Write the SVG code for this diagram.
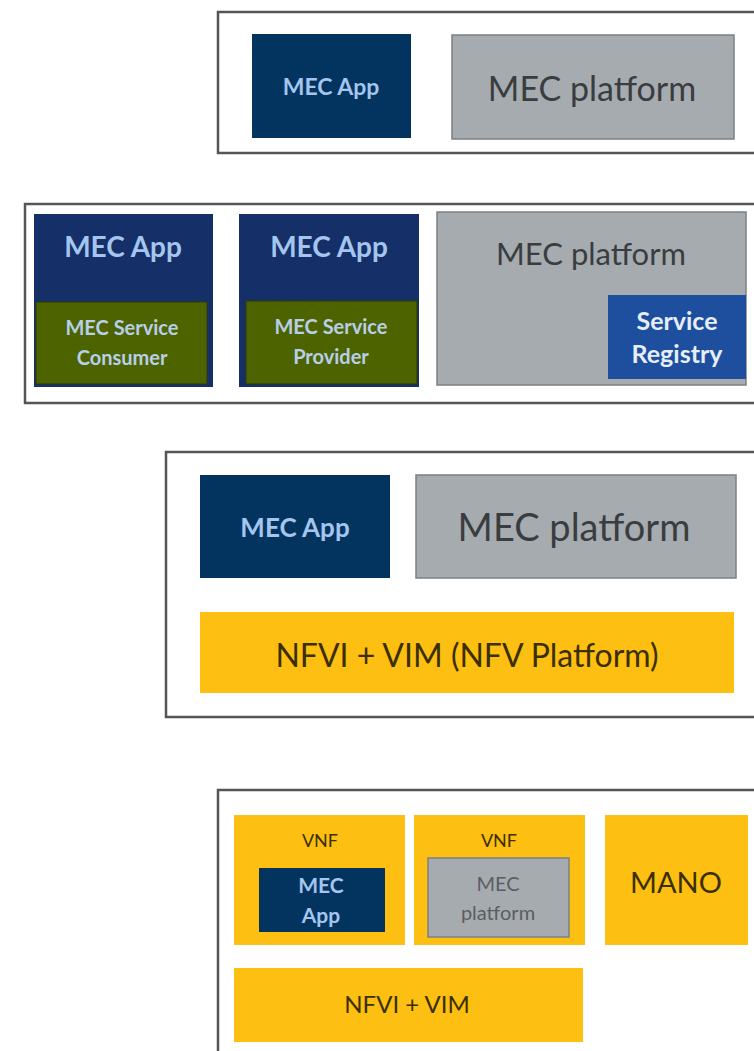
<svg xmlns="http://www.w3.org/2000/svg" width="754" height="1051" viewBox="0 0 754 1051">
<style>
text{font-family:Lato,"Open Sans","Liberation Sans",sans-serif;text-anchor:middle;dominant-baseline:central}
.frame{fill:#fff;stroke:#555;stroke-width:2.5}
.app{fill:#03335f}
.app2{fill:#152f68}
.plat{fill:#a6abaf;stroke:#7b8084;stroke-width:1.5}
.green{fill:#4c6300;stroke:#2f3d00;stroke-width:1}
.yel{fill:#fdbf12}
.reg{fill:#1e4f9e}
.tApp{fill:#a4c6ee;font-weight:bold}
.tPlat{fill:#3a3d40}
.tYel{fill:#3b2f00}
.tGreen{fill:#b9cfe8;font-weight:bold}
.tReg{fill:#e6eef8;font-weight:bold}
</style>
<g id="panel1">
<rect class="frame" x="218" y="12" width="560" height="141"/>
<g id="p1-app"><rect class="app" x="252" y="34" width="159" height="104"/><text class="tApp" x="331" y="86" font-size="23">MEC App</text></g>
<g id="p1-platform"><rect class="plat" x="452" y="35" width="282" height="104"/><text class="tPlat" x="592" y="87" font-size="34">MEC platform</text></g>
</g>
<g id="panel2">
<rect class="frame" x="25" y="204" width="750" height="199"/>
<g id="p2-app1"><rect class="app2" x="34" y="214" width="179" height="173"/><text class="tApp" x="123" y="246" font-size="28">MEC App</text>
<rect class="green" x="36" y="302" width="171" height="82"/><text class="tGreen" x="122" y="327" font-size="20">MEC Service</text><text class="tGreen" x="122" y="357" font-size="20">Consumer</text></g>
<g id="p2-app2"><rect class="app2" x="239" y="214" width="180" height="173"/><text class="tApp" x="329" y="246" font-size="28">MEC App</text>
<rect class="green" x="246" y="301" width="171" height="83"/><text class="tGreen" x="331" y="326" font-size="20">MEC Service</text><text class="tGreen" x="331" y="356" font-size="20">Provider</text></g>
<g id="p2-platform"><rect class="plat" x="437" y="212" width="309" height="173"/><text class="tPlat" x="591" y="253" font-size="31">MEC platform</text>
<rect class="reg" x="608" y="295" width="138" height="84"/><text class="tReg" x="677" y="320" font-size="25">Service</text><text class="tReg" x="677" y="353" font-size="25">Registry</text></g>
</g>
<g id="panel3">
<rect class="frame" x="166" y="452" width="610" height="265"/>
<g id="p3-app"><rect class="app" x="200" y="475" width="190" height="103"/><text class="tApp" x="295" y="527" font-size="26">MEC App</text></g>
<g id="p3-platform"><rect class="plat" x="416" y="475" width="320" height="103"/><text class="tPlat" x="574" y="526" font-size="38">MEC platform</text></g>
<g id="p3-nfvi"><rect class="yel" x="200" y="612" width="534" height="81"/><text class="tYel" x="467" y="654" font-size="32">NFVI + VIM (NFV Platform)</text></g>
</g>
<g id="panel4">
<rect class="frame" x="218" y="790" width="560" height="280"/>
<g id="p4-vnf1"><rect class="yel" x="234" y="815" width="171" height="130"/><text class="tYel" x="320" y="840" font-size="18">VNF</text>
<rect class="app" x="259" y="868" width="126" height="64"/><text class="tApp" x="321" y="884" font-size="21">MEC</text><text class="tApp" x="321" y="914" font-size="21">App</text></g>
<g id="p4-vnf2"><rect class="yel" x="414" y="815" width="171" height="130"/><text class="tYel" x="499" y="840" font-size="18">VNF</text>
<rect class="plat" x="428" y="858" width="141" height="79"/><text fill="#5a5e62" x="498" y="883" font-size="20">MEC</text><text fill="#5a5e62" x="498" y="912" font-size="20">platform</text></g>
<g id="p4-mano"><rect class="yel" x="605" y="815" width="143" height="130"/><text class="tYel" x="676" y="881" font-size="29">MANO</text></g>
<g id="p4-nfvi"><rect class="yel" x="234" y="968" width="349" height="74"/><text class="tYel" x="407" y="1003" font-size="24">NFVI + VIM</text></g>
</g>
<g id="connectors"/>
</svg>
